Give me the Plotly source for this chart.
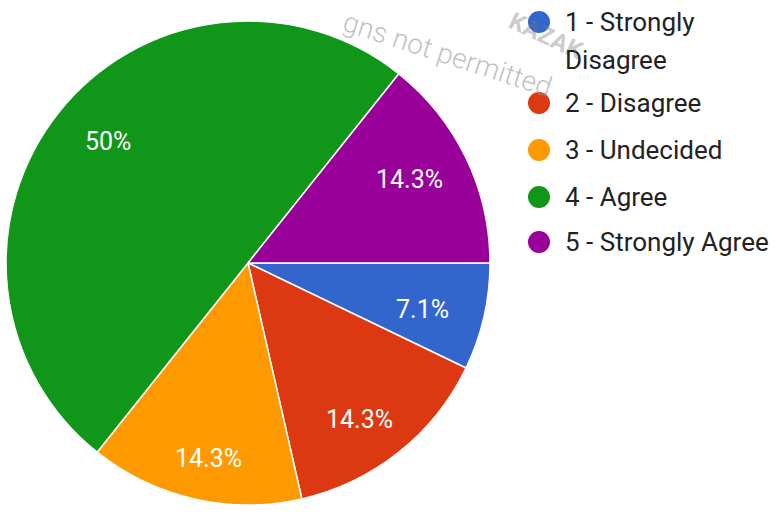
import math
import plotly.graph_objects as go

# Survey responses (counts per answer)
categories = ["1 - Strongly Disagree", "2 - Disagree", "3 - Undecided", "4 - Agree", "5 - Strongly Agree"]
legend_lines = [["1 - Strongly", "Disagree"], ["2 - Disagree"], ["3 - Undecided"], ["4 - Agree"], ["5 - Strongly Agree"]]
counts = [1, 2, 2, 7, 2]
colors = ["#3366CC", "#DC3912", "#FF9900", "#109618", "#990099"]

W, H = 780, 517
total = sum(counts)


def pct_label(v):
    p = round(v / total * 100, 1)
    return (f"{p:.0f}%" if p == int(p) else f"{p:.1f}%")


labels_text = [pct_label(v) for v in counts]

# pie geometry in pixels
cx, cy, r = 248, 263, 242
start_deg = 0.0  # first slice starts at 3 o'clock, slices run clockwise

fig = go.Figure()
fig.add_trace(go.Pie(
    labels=categories,
    values=counts,
    text=labels_text,
    textinfo="none",
    marker=dict(colors=colors, line=dict(color="white", width=1.5)),
    sort=False,
    direction="clockwise",
    rotation=90,
    showlegend=False,
    hovertemplate="%{label}: %{text}<extra></extra>",
    domain=dict(x=[(cx - r) / W, (cx + r) / W],
                y=[1 - (cy + r) / H, 1 - (cy - r) / H]),
))

shapes = []
annotations = []

# watermark (drawn first so the legend sits on top of it)
annotations.append(dict(x=448 / W, y=1 - 54 / H, xref="paper", yref="paper",
                        xanchor="center", yanchor="middle",
                        text="gns not permitted", showarrow=False, textangle=18,
                        font=dict(family="Roboto, sans-serif", size=28, color="rgba(150,150,150,0.6)", weight=300)))
annotations.append(dict(x=546 / W, y=1 - 36 / H, xref="paper", yref="paper",
                        xanchor="center", yanchor="middle",
                        text="KAZAK", showarrow=False, textangle=25,
                        font=dict(family="Roboto, sans-serif", size=24, color="rgba(120,120,120,0.4)", weight=700)))

# percentage labels placed at the angular middle of each slice
lab_rx, lab_ry = 179, 198
acc = 0.0
for v, t in zip(counts, labels_text):
    mid = start_deg + (acc + v / 2) / total * 360
    acc += v
    a = math.radians(mid)
    px = cx + lab_rx * math.cos(a)
    py = cy + 2 + lab_ry * math.sin(a)
    annotations.append(dict(x=px / W, y=1 - py / H, xref="paper", yref="paper",
                            xanchor="center", yanchor="middle", text=t, showarrow=False,
                            font=dict(family="Roboto, Arial, sans-serif", size=25, color="white")))

# legend: circle swatch + label lines
leg_x, text_x = 539, 563
leg_y = [22, 103, 150, 197, 242]
line_gap = 38
for lines, col, y in zip(legend_lines, colors, leg_y):
    rad = 11
    shapes.append(dict(type="circle", xref="paper", yref="paper",
                       x0=(leg_x - rad) / W, x1=(leg_x + rad) / W,
                       y0=1 - (y + rad) / H, y1=1 - (y - rad) / H,
                       fillcolor=col, line=dict(width=0)))
    for k, line in enumerate(lines):
        annotations.append(dict(x=text_x / W, y=1 - (y + k * line_gap) / H,
                                xref="paper", yref="paper", xanchor="left", yanchor="middle",
                                text=line, showarrow=False,
                                font=dict(family="Roboto, Arial, sans-serif", size=26, color="#222222")))

fig.update_layout(
    width=W, height=H, autosize=False,
    margin=dict(l=0, r=0, t=0, b=0),
    paper_bgcolor="white", plot_bgcolor="white",
    shapes=shapes, annotations=annotations,
)

fig.write_html("out.html")
